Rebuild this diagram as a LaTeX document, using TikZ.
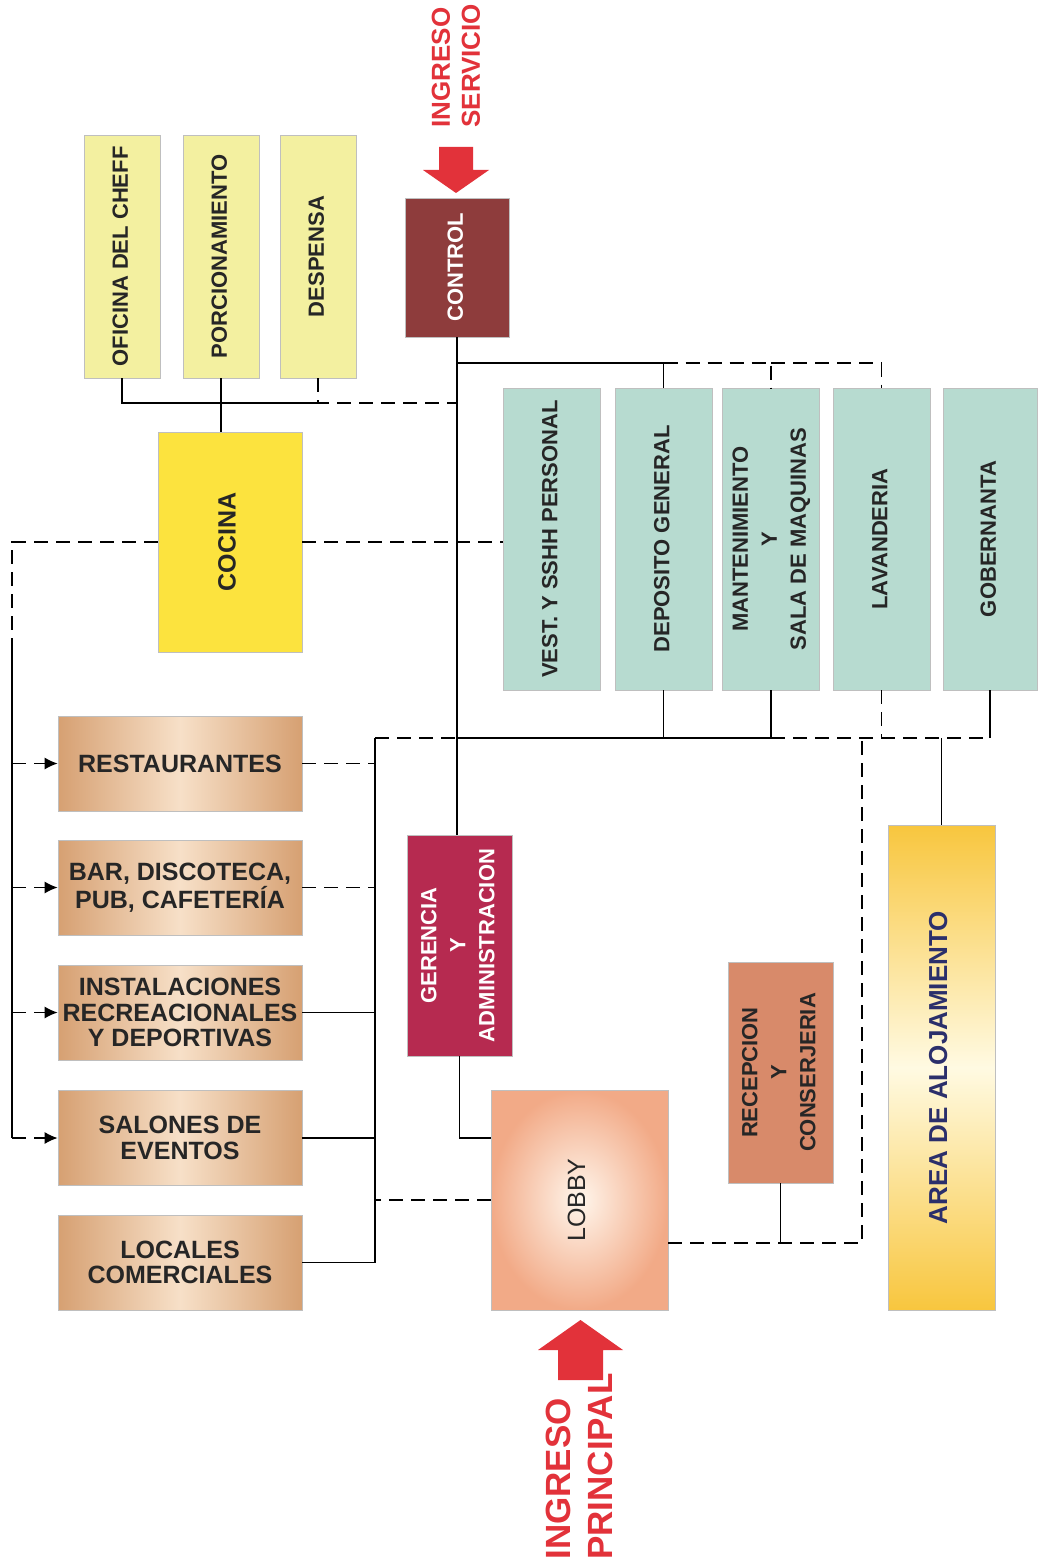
\documentclass[tikz,border=0pt]{standalone}
\usepackage{fontspec}
\setmainfont{Liberation Sans}
\usepackage{tikz}
\usetikzlibrary{arrows.meta}

\definecolor{auxyellow}{RGB}{243,240,160}
\definecolor{ctrlbrown}{RGB}{142,60,60}
\definecolor{kitchen}{RGB}{252,227,62}
\definecolor{service}{RGB}{183,219,208}
\definecolor{tandark}{RGB}{214,160,114}
\definecolor{tanlight}{RGB}{247,224,200}
\definecolor{mgmt}{RGB}{182,42,80}
\definecolor{lobbydark}{RGB}{242,170,135}
\definecolor{lobbylight}{RGB}{255,246,236}
\definecolor{recep}{RGB}{216,138,106}
\definecolor{roomdark}{RGB}{248,198,62}
\definecolor{roomlight}{RGB}{255,250,226}
\definecolor{roomtext}{RGB}{43,47,107}
\definecolor{entryred}{RGB}{226,50,58}

\newcommand{\vtext}[1]{\rotatebox{90}{\begin{tabular}{@{}c@{}}#1\end{tabular}}}

\begin{document}
\begin{tikzpicture}[x=0.5pt, y=-0.5pt,
		box_style/.style={rectangle,draw=black!25,inner sep=0pt,text=black!85,font=\fontsize{11}{14.5}\selectfont\bfseries},
		aux_style/.style={box_style,fill=auxyellow,minimum width=38pt,minimum height=121.5pt},
		serv_style/.style={box_style,fill=service,minimum width=48.5pt,minimum height=151pt},
		public_style/.style={box_style,minimum width=122pt,minimum height=47.5pt,left color=tandark,right color=tandark,middle color=tanlight,font=\fontsize{12.5}{12.8}\selectfont\bfseries},
		entry_text/.style={rotate=90,anchor=west,align=left,inner sep=1pt,text=entryred,font=\fontsize{13}{15}\selectfont\bfseries},
		edge_style/.style={draw=black,line width=0.6pt},
		dash_style/.style={edge_style,dash pattern=on 7pt off 4pt},
		arrow_style/.style={dash_style,-{Latex[length=6.5pt,width=6pt]}}]

		\path[fill=white] (0,0) rectangle (1037,1562);

		\node[aux_style] (n0) at (122,256.5) {\vtext{OFICINA DEL CHEFF}};
		\node[aux_style] (n1) at (221,256.5) {\vtext{PORCIONAMIENTO}};
		\node[aux_style] (n2) at (318,256.5) {\vtext{DESPENSA}};
		\node[box_style,fill=ctrlbrown,text=white,minimum width=52pt,minimum height=69.5pt] (n3) at (457,267.5) {\vtext{CONTROL}};
		\node[box_style,fill=kitchen,minimum width=72pt,minimum height=110pt,font=\fontsize{12.5}{14}\selectfont\bfseries] (n4) at (230,542) {\vtext{COCINA}};
		\node[serv_style] (n5) at (551.5,539) {\vtext{VEST. Y SSHH PERSONAL}};
		\node[serv_style] (n6) at (663.5,539) {\vtext{DEPOSITO GENERAL}};
		\node[serv_style] (n7) at (771,539) {\vtext{MANTENIMIENTO\\Y\\SALA DE MAQUINAS}};
		\node[serv_style] (n8) at (881.5,539) {\vtext{LAVANDERIA}};
		\node[serv_style,minimum width=47pt] (n9) at (990,539) {\vtext{GOBERNANTA}};
		\node[public_style] (n10) at (180,763.5) {RESTAURANTES};
		\node[public_style,align=center] (n11) at (180,887.5) {BAR, DISCOTECA,\\PUB, CAFETERÍA};
		\node[public_style,align=center] (n12) at (180,1012.5) {INSTALACIONES\\RECREACIONALES\\Y DEPORTIVAS};
		\node[public_style,align=center] (n13) at (180,1138) {SALONES DE\\EVENTOS};
		\node[public_style,align=center] (n14) at (180,1262.5) {LOCALES\\COMERCIALES};
		\node[box_style,fill=mgmt,text=white,minimum width=52.5pt,minimum height=110.5pt] (n15) at (459.5,945.5) {\vtext{GERENCIA\\Y\\ADMINISTRACION}};
		\node[box_style,inner color=lobbylight,outer color=lobbydark,minimum width=88.5pt,minimum height=110pt,font=\fontsize{12.5}{14}\selectfont] (n16) at (579.5,1200) {\vtext{LOBBY}};
		\node[box_style,fill=recep,minimum width=52.5pt,minimum height=110.5pt] (n17) at (780.5,1072.5) {\vtext{RECEPCION\\Y\\CONSERJERIA}};
		\node[box_style,top color=roomdark,bottom color=roomdark,middle color=roomlight,text=roomtext,minimum width=53.5pt,minimum height=242.5pt,font=\fontsize{13}{14}\selectfont\bfseries] (n18) at (941.5,1067.5) {\vtext{AREA DE ALOJAMIENTO}};

		\node[entry_text] (n19) at (456,130) {INGRESO\\SERVICIO};
		\node[entry_text,font=\fontsize{17.5}{21}\selectfont\bfseries] (n20) at (579,1562) {INGRESO\\PRINCIPAL};
		\fill[entryred] (439,147) -- (473,147) -- (473,170) -- (489,170) -- (456,193) -- (423,170) -- (439,170) -- cycle;
		\fill[entryred] (558,1380) -- (603,1380) -- (603,1350) -- (623,1350) -- (580.5,1320) -- (538,1350) -- (558,1350) -- cycle;

		\coordinate (k0) at (457,403);
		\coordinate (s0) at (457,363);
		\coordinate (c0) at (12,542);
		\coordinate (c1) at (12,640);
		\coordinate (r0) at (375,738);
		\coordinate (l0) at (862,738);
		\coordinate (l1) at (862,1243);

		\draw[edge_style] (n0.south) |- (n2.south |- k0);
		\draw[dash_style] (n2.south) -- (n2.south |- k0) -- (k0);
		\draw[edge_style] (n1.south) -- (n1.south |- n4.north);
		\draw[edge_style] (n3.south) -- (n3.south |- n15.north);
		\draw[edge_style] (s0) -| (n6.north);
		\draw[dash_style] (n6.north |- s0) -| (n7.north);
		\draw[dash_style] (n7.north |- s0) -| (n8.north);

		\draw[dash_style] (n4.east) -- (n4.east -| n5.west);
		\draw[dash_style] (n4.west) -- (c0) -- (c1);
		\draw[edge_style] (c1) -- (c0 |- n13.west);
		\draw[arrow_style] (c0 |- n10.west) -- (n10.west);
		\draw[arrow_style] (c0 |- n11.west) -- (n11.west);
		\draw[arrow_style] (c0 |- n12.west) -- (n12.west);
		\draw[arrow_style] (c0 |- n13.west) -- (n13.west);

		\draw[edge_style] (r0) -- (r0 |- n14.east);
		\draw[dash_style] (n10.east) -- (n10.east -| r0);
		\draw[dash_style] (n11.east) -- (n11.east -| r0);
		\draw[edge_style] (n12.east) -- (n12.east -| r0);
		\draw[edge_style] (n13.east) -- (n13.east -| r0);
		\draw[edge_style] (n14.east) -- (n14.east -| r0);
		\draw[dash_style] (r0) -- (r0 -| n3.south);
		\draw[edge_style] (r0 -| n3.south) -- (r0 -| n7.south);
		\draw[dash_style] (r0 -| n7.south) -- (r0 -| n9.south);
		\draw[edge_style] (n6.south) -- (n6.south |- r0);
		\draw[edge_style] (n7.south) -- (n7.south |- r0);
		\draw[dash_style] (n8.south) -- (n8.south |- r0);
		\draw[edge_style] (n9.south) -- (n9.south |- r0);
		\draw[edge_style] (n18.north) -- (n18.north |- r0);

		\draw[dash_style] (n16.west) -- (n16.west -| r0);
		\draw[edge_style] (n15.south) |- (n16.west |- n13.east);
		\draw[dash_style] (n16.east |- l1) -- (l1) -- (l0);
		\draw[edge_style] (n17.south) -- (n17.south |- l1);
\end{tikzpicture}
\end{document}
